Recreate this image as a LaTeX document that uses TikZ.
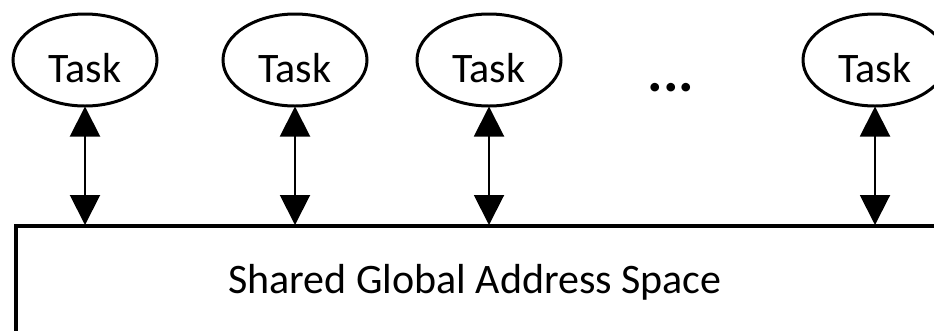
\documentclass[tikz,border=0pt]{standalone}
\usepackage{fontspec}
\setmainfont{Carlito}
\usetikzlibrary{arrows.meta,shapes.geometric}
\begin{document}
\begin{tikzpicture}[x=1pt,y=-1pt,
  task/.style={draw,line width=3pt,ellipse,minimum width=144pt,minimum height=92pt,inner sep=0pt,
    font=\fontsize{42}{50}\selectfont,text height=44pt,text depth=0pt},
  link/.style={line width=2pt,{Triangle[width=30pt,length=30pt]}-{Triangle[width=30pt,length=30pt]},shorten <=-1pt,shorten >=-1pt},
  spacebox/.style={draw,line width=3.5pt,rectangle,anchor=north west,minimum width=980pt,minimum height=200pt,inner sep=0pt}]
\useasboundingbox (0,0) rectangle (934,330);
\clip (0,0) rectangle (934,330);
\node[spacebox] (gas) at (14,224) {};
\node[anchor=base,font=\fontsize{42}{50}\selectfont] (lbl) at (475,293) {Shared Global Address Space};
\node[task] (t1) at (85,60) {Task};
\node[task] (t2) at (295,60) {Task};
\node[task] (t3) at (489,60) {Task};
\node[task] (t4) at (875,60) {Task};
\node[anchor=base,font=\fontsize{58}{60}\selectfont\bfseries] (dots) at (671,91) {...};
\foreach \t in {t1,t2,t3,t4}{
  \draw[link] (\t.south) -- (\t.south |- gas.north);
}
\end{tikzpicture}
\end{document}
